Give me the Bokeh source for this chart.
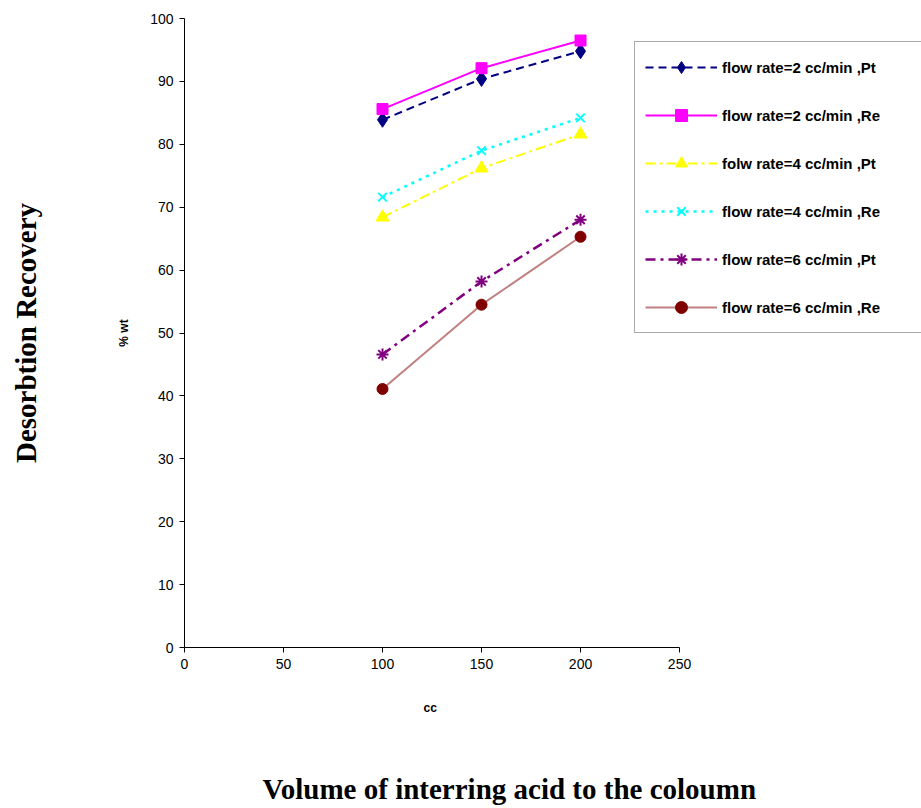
from bokeh.plotting import figure
from bokeh.models import Legend, LegendItem, Title, Range1d, FixedTicker, LinearAxis
from bokeh.embed import file_html
from bokeh.resources import INLINE

# Volume of acid passed through the column (cc)
volume_cc = [100, 150, 200]

# Desorption recovery (% wt) for each flow rate / metal
pt_2 = [83.9, 90.4, 94.8]
re_2 = [85.6, 92.1, 96.5]
pt_4 = [68.4, 76.2, 81.6]
re_4 = [71.6, 79.0, 84.2]
pt_6 = [46.6, 58.2, 68.0]
re_6 = [41.1, 54.5, 65.3]

series_labels = [
    "flow rate=2 cc/min ,Pt",
    "flow rate=2 cc/min ,Re",
    "folw rate=4 cc/min ,Pt",
    "flow rate=4 cc/min ,Re",
    "flow rate=6 cc/min ,Pt",
    "flow rate=6 cc/min ,Re",
]

x_ticks = [0, 50, 100, 150, 200, 250]
y_ticks = [0, 10, 20, 30, 40, 50, 60, 70, 80, 90, 100]

# The frame runs to the right edge so the legend can sit over it;
# the x axis itself is bounded to 0..250.
X_AXIS_END = 250
X_VIEW_END = 372.2

p = figure(
    width=921, height=808,
    output_backend="svg", toolbar_location=None,
    x_range=Range1d(0, X_VIEW_END), y_range=Range1d(0, 100),
    min_border_left=184, min_border_right=0,
    min_border_top=18, min_border_bottom=161,
)
p.outline_line_color = None
p.xgrid.visible = False
p.ygrid.visible = False
p.background_fill_color = "white"
p.border_fill_color = "white"

for ax in (p.xaxis[0], p.yaxis[0]):
    ax.axis_line_color = "black"
    ax.axis_line_width = 1
    ax.major_tick_line_color = "black"
    ax.major_tick_in = 0
    ax.major_tick_out = 5
    ax.minor_tick_line_color = None
    ax.major_label_text_font = "Liberation Sans"
    ax.major_label_text_font_size = "14px"
    ax.major_label_text_color = "black"

p.xaxis.bounds = (0, X_AXIS_END)
p.xaxis.ticker = FixedTicker(ticks=x_ticks)
p.yaxis.ticker = FixedTicker(ticks=y_ticks)
p.xaxis.major_label_standoff = 6
p.yaxis.major_label_standoff = 6
p.yaxis.axis_label = "% wt"
p.yaxis.axis_label_standoff = 16
p.yaxis.axis_label_text_font = "Liberation Sans"
p.yaxis.axis_label_text_font_style = "bold"
p.yaxis.axis_label_text_font_size = "12px"
p.yaxis.axis_label_text_color = "black"

TITLE_FONT = "Liberation Serif"
TITLE_SIZE = "29px"

# Outer left title, carried by an axis with no line, ticks or tick labels
p.add_layout(LinearAxis(
    ticker=FixedTicker(ticks=[]),
    axis_line_color=None, major_tick_line_color=None,
    minor_tick_line_color=None, major_tick_in=0, major_tick_out=0,
    major_label_standoff=0,
    axis_label="Desorbtion Recovery", axis_label_standoff=73,
    axis_label_text_font=TITLE_FONT, axis_label_text_font_style="bold",
    axis_label_text_font_size=TITLE_SIZE, axis_label_text_color="black",
), "left")


def gap_axis(size):
    """A blank below-axis that only reserves `size` pixels of vertical space."""
    return LinearAxis(
        ticker=FixedTicker(ticks=[0]),
        axis_line_color=None, major_tick_line_color="white",
        minor_tick_line_color=None, major_tick_in=0, major_tick_out=size,
        major_label_standoff=0, major_label_overrides={0: ""},
        major_label_text_font_size="0px",
    )


styles = [
    # values, line colour, dash, line width, marker, marker colour, marker size
    (pt_2, "#000080", "8 5", 2, "diamond", "#000080", 15),
    (re_2, "#FF00FF", "solid", 2, "square", "#FF00FF", 11),
    (pt_4, "#FFFF00", "10 4 3 4", 2, "triangle", "#FFFF00", 13),
    (re_4, "#00FFFF", "3 5", 2.5, "x", "#00FFFF", 12),
    (pt_6, "#800080", "10 5 3 5", 2.5, "asterisk", "#800080", 12),
    (re_6, "#C08080", "solid", 2, "circle", "#800000", 11),
]

items = []
for (vals, lc, dash, lw, marker, mc, ms), lab in zip(styles, series_labels):
    lr = p.line(volume_cc, vals, line_color=lc, line_dash=dash, line_width=lw)
    if marker in ("x", "asterisk"):
        sr = p.scatter(volume_cc, vals, marker=marker, size=ms,
                       line_color=mc, line_width=2)
    else:
        sr = p.scatter(volume_cc, vals, marker=marker, size=ms,
                       fill_color=mc, line_color=mc)
    items.append(LegendItem(label=lab, renderers=[lr, sr]))

legend = Legend(
    items=items,
    location=(450, 314),
    orientation="vertical",
    glyph_width=72, glyph_height=30,
    label_standoff=5,
    label_text_font="Liberation Sans",
    label_text_font_style="bold",
    label_text_font_size="15px",
    label_text_color="black",
    label_height=30,
    label_width=210,
    spacing=18,
    padding=10,
    margin=0,
    border_line_color="#555555",
    border_line_width=1.5,
    background_fill_color="white",
    background_fill_alpha=1,
)
p.add_layout(legend, "center")

# Below the x axis: gap, "cc", gap, outer title
p.add_layout(gap_axis(28), "below")
p.add_layout(Title(
    text="cc", align="left", offset=239, standoff=0, vertical_align="middle",
    text_font="Liberation Sans", text_font_style="bold",
    text_font_size="12px", text_color="black",
), "below")
p.add_layout(gap_axis(56), "below")
p.add_layout(Title(
    text="Volume of interring acid to the coloumn", align="left", offset=78,
    standoff=0, vertical_align="middle",
    text_font=TITLE_FONT, text_font_style="bold",
    text_font_size=TITLE_SIZE, text_color="black",
), "below")

open("out.html", "w").write(file_html(p, INLINE))
